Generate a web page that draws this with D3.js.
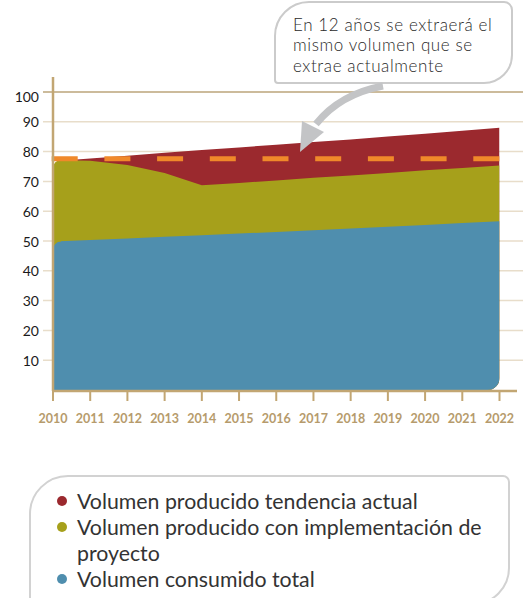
<html>
<head>
<meta charset="utf-8">
<script src="https://d3js.org/d3.v7.min.js"></script>
<style>
  body { margin: 0; background: #fff; }
  text { font-family: Lato, "Open Sans", sans-serif; }
</style>
</head>
<body>
<div id="chart"></div>
<script>
// data
const years = [2010, 2011, 2012, 2013, 2014, 2015, 2016, 2017, 2018, 2019, 2020, 2021, 2022];
const tendencia = [76.8, 77.7, 78.6, 79.6, 80.5, 81.4, 82.3, 83.2, 84.1, 85.1, 86.0, 87.0, 88.0];
const proyecto = [77.2, 76.9, 75.5, 72.8, 68.7, 69.5, 70.3, 71.2, 72.0, 72.8, 73.7, 74.5, 75.3];
const consumo = [49.8, 50.3, 50.8, 51.4, 51.9, 52.5, 53.0, 53.6, 54.2, 54.8, 55.4, 56.0, 56.6];
const nivelActual = 77.6;
const yTicks = [10, 20, 30, 40, 50, 60, 70, 80, 90, 100];
const calloutLines = ["En 12 años se extraerá el", "mismo volumen que se", "extrae actualmente"];
const legendItems = [
  {color: "#9b292e", lines: ["Volumen producido tendencia actual"]},
  {color: "#a6a01b", lines: ["Volumen producido con implementación de", "proyecto"]},
  {color: "#4f8eae", lines: ["Volumen consumido total"]}
];

const width = 523, height = 598;
const svg = d3.select("#chart").append("svg")
  .attr("width", width).attr("height", height);

const x = d3.scaleLinear().domain([2010, 2022]).range([53, 499.5]);
const y = d3.scaleLinear().domain([0, 100]).range([390, 92]);

// rounded rect with its own radius on each corner
function roundRect(x0, y0, x1, y1, tl, tr, br, bl) {
  return `M${x0},${y0 + tl} A${tl},${tl} 0 0 1 ${x0 + tl},${y0}` +
    ` L${x1 - tr},${y0} A${tr},${tr} 0 0 1 ${x1},${y0 + tr}` +
    ` L${x1},${y1 - br} A${br},${br} 0 0 1 ${x1 - br},${y1}` +
    ` L${x0 + bl},${y1} A${bl},${bl} 0 0 1 ${x0},${y1 - bl} Z`;
}

// clip that rounds the top-left corner of an area and the bottom-right one
function areaClip(id, topY, r, r2) {
  const x0 = x(2010), x1 = x(2022), b = y(0);
  const d = `M${x0},${topY + r} A${r},${r} 0 0 1 ${x0 + r},${topY} L${x0 + r},0 L${x1},0` +
    ` L${x1},${b - r2} A${r2},${r2} 0 0 1 ${x1 - r2},${b} L${x0},${b} Z`;
  svg.append("clipPath").attr("id", id).append("path").attr("d", d);
}

// gridlines
svg.selectAll(".grid").data(yTicks).enter().append("line")
  .attr("x1", 43).attr("x2", width)
  .attr("y1", d => y(d)).attr("y2", d => y(d))
  .style("stroke", d => d === 100 ? "#bba47a" : "#e8ddca")
  .style("stroke-width", 1.5);

// areas
const series = [
  {vals: tendencia, color: "#9b292e"},
  {vals: proyecto, color: "#a6a01b"},
  {vals: consumo, color: "#4f8eae"}
];
series.forEach((s, i) => {
  areaClip("clip" + i, y(s.vals[0]), 8, 12);
  const area = d3.area()
    .x((d, j) => x(years[j]))
    .y0(y(0))
    .y1(d => y(d));
  svg.append("path")
    .attr("d", area(s.vals))
    .attr("clip-path", `url(#clip${i})`)
    .style("fill", s.color);
});

// current level dashed line
svg.append("line")
  .attr("x1", x(2010) - 1.3).attr("x2", x(2022))
  .attr("y1", y(nivelActual)).attr("y2", y(nivelActual))
  .style("stroke", "#f0892a")
  .style("stroke-width", 5)
  .style("stroke-dasharray", "26,26.7");

// axes
const axisColor = "#c2a673";
svg.append("line")
  .attr("x1", 53).attr("x2", 53).attr("y1", 77).attr("y2", 391)
  .style("stroke", axisColor).style("stroke-width", 2.5);
svg.append("line")
  .attr("x1", 52).attr("x2", 517).attr("y1", 391).attr("y2", 391)
  .style("stroke", axisColor).style("stroke-width", 2.5);
svg.selectAll(".xtick").data(years).enter().append("line")
  .attr("x1", d => x(d)).attr("x2", d => x(d))
  .attr("y1", 391).attr("y2", 401)
  .style("stroke", axisColor).style("stroke-width", 2);
svg.selectAll(".xlabel").data(years).enter().append("text")
  .attr("x", d => x(d)).attr("y", 418)
  .attr("text-anchor", "middle").attr("dominant-baseline", "central")
  .style("font-size", "12.5px").style("font-weight", "bold")
  .style("fill", "#b69b6c")
  .text(d => d);
svg.selectAll(".ylabel").data(yTicks).enter().append("text")
  .attr("x", 39).attr("y", d => y(d) + (d === 100 ? 4 : 0))
  .attr("text-anchor", "end").attr("dominant-baseline", "central")
  .style("font-size", "14px").style("fill", "#1a1a1a")
  .text(d => d);

// callout box
svg.append("path")
  .attr("d", roundRect(275, 2, 512, 83, 34, 8, 28, 3))
  .style("fill", "#fff").style("stroke", "#cbcbcb").style("stroke-width", 2);
svg.selectAll(".callout").data(calloutLines).enter().append("text")
  .attr("x", 293).attr("y", (d, i) => 30.5 + i * 20.5)
  .style("font-size", "17px").style("font-weight", 300)
  .style("letter-spacing", "0.6px").style("fill", "#2a2a2a")
  .text(d => d);

// curved arrow
svg.append("path")
  .attr("d", "M383,86 Q340,94 316,124")
  .style("fill", "none").style("stroke", "#c3c4c6").style("stroke-width", 7);
svg.append("path")
  .attr("d", "M302,121 L324,132 L300,152 Z")
  .style("fill", "#c3c4c6");

// legend box
svg.append("path")
  .attr("d", roundRect(30, 476, 509, 604, 38, 6, 36, 0))
  .style("fill", "none").style("stroke", "#d2d2d2").style("stroke-width", 2);
let row = 0;
legendItems.forEach(item => {
  const cy = 501 + row * 26;
  svg.append("circle")
    .attr("cx", 62).attr("cy", cy).attr("r", 5)
    .style("fill", item.color);
  item.lines.forEach(t => {
    svg.append("text")
      .attr("x", 77).attr("y", 501 + row * 26)
      .attr("dominant-baseline", "central")
      .style("font-size", "21.3px").style("fill", "#333")
      .text(t);
    row++;
  });
});
</script>
</body>
</html>
